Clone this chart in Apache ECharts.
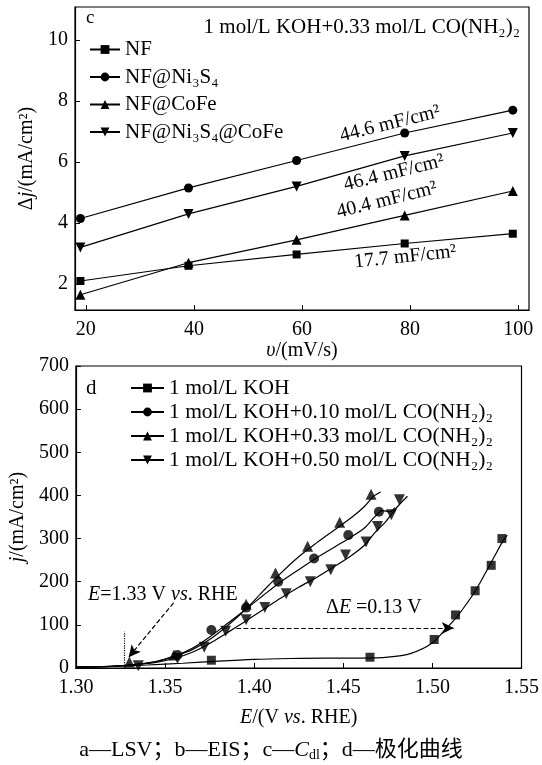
<!DOCTYPE html>
<html>
<head>
<meta charset="utf-8">
<script src="https://cdn.jsdelivr.net/npm/echarts@6/dist/echarts.min.js"></script>
<style>
html, body { margin: 0; padding: 0; background: #fff; }
#main { width: 542px; height: 765px; }
</style>
</head>
<body>
<div id="main"></div>
<script>
// ---- panel c : delta j vs scan rate ----
var scanRates = [19, 39, 59, 79, 99];
var nfVals = [2.1, 2.6, 2.97, 3.33, 3.65];
var ni3s4Vals = [4.15, 5.15, 6.05, 6.95, 7.7];
var cofeVals = [1.65, 2.7, 3.45, 4.25, 5.05];
var ni3s4CofeVals = [3.2, 4.3, 5.2, 6.2, 6.95];
var cTicksX = [20, 40, 60, 80, 100];
var cTicksY = [2, 4, 6, 8, 10];
var cdlNotes = [
    { text: '44.6 mF/cm²', at: [76.3, 7.25], rot: 14 },
    { text: '46.4 mF/cm²', at: [77.0, 5.64], rot: 14 },
    { text: '40.4 mF/cm²', at: [75.7, 4.75], rot: 14 },
    { text: '17.7 mF/cm²', at: [79.1, 2.89], rot: 6 }
];

// ---- panel d : polarization curves ----
var kohCurve = [[1.300, 2], [1.320, 4], [1.340, 7], [1.360, 11], [1.380, 16], [1.400, 20], [1.420, 22],
    [1.440, 23], [1.460, 23], [1.475, 25], [1.488, 34], [1.500, 58], [1.507, 88], [1.513, 115],
    [1.518, 142], [1.524, 178], [1.530, 222], [1.535, 260], [1.539, 290], [1.542, 308]];
var kohMarks = [[1.376, 18], [1.465, 25], [1.501, 66], [1.513, 123], [1.524, 179], [1.533, 238], [1.539, 300]];

var urea010Curve = [[1.300, 2], [1.315, 3], [1.325, 5], [1.335, 9], [1.345, 15], [1.355, 27], [1.365, 45],
    [1.375, 72], [1.385, 103], [1.395, 135], [1.405, 168], [1.415, 200], [1.425, 228], [1.435, 255],
    [1.445, 280], [1.455, 305], [1.462, 325], [1.468, 352], [1.472, 365], [1.476, 362], [1.479, 372]];
var urea010Marks = [[1.357, 30], [1.376, 88], [1.3955, 140], [1.4135, 200], [1.4336, 254], [1.4528, 308], [1.470, 362]];

var urea033Curve = [[1.300, 2], [1.315, 3], [1.325, 5], [1.335, 9], [1.345, 15], [1.355, 27], [1.365, 42],
    [1.375, 66], [1.385, 98], [1.395, 135], [1.405, 178], [1.415, 220], [1.425, 258], [1.435, 290],
    [1.445, 320], [1.455, 350], [1.462, 375], [1.467, 398], [1.471, 408]];
var urea033Marks = [[1.330, 14], [1.355, 30], [1.3955, 148], [1.412, 220], [1.430, 282], [1.448, 338], [1.4656, 403]];

var urea050Curve = [[1.300, 2], [1.315, 3], [1.325, 5], [1.335, 8], [1.345, 13], [1.355, 22], [1.365, 36],
    [1.375, 57], [1.385, 82], [1.395, 108], [1.405, 135], [1.415, 162], [1.425, 187], [1.435, 210],
    [1.445, 235], [1.455, 262], [1.462, 285], [1.468, 315], [1.474, 340], [1.480, 372], [1.486, 398]];
var urea050Marks = [[1.335, 5], [1.357, 22], [1.372, 48], [1.384, 85], [1.3955, 112], [1.406, 140], [1.418, 172],
    [1.4315, 200], [1.443, 228], [1.4513, 262], [1.4628, 292], [1.4692, 328], [1.477, 355], [1.4815, 390]];

var dTicksX = [1.30, 1.35, 1.40, 1.45, 1.50, 1.55];
var onsetArrow = [[1.3548, 151], [1.3296, 25]];
var onsetDrop = [[1.327, 0], [1.327, 84]];
var deltaArrow = [[1.390, 93], [1.512, 93]];
var onsetNote = { at: [1.3488, 169] };
var deltaNote = { at: [1.4672, 139] };

var FONT = '"Liberation Serif", "Times New Roman", serif';
var DOWN_TRI = 'path://M0,0L10,0L5,9Z';

function zip(xs, ys) {
    return xs.map(function (x, i) { return [x, ys[i]]; });
}

var chartDom = document.getElementById('main');
var myChart = echarts.init(chartDom);
var option;

function axisBase(extra) {
    var base = {
        type: 'value',
        axisLine: { show: true, lineStyle: { color: '#000', width: 1.2 } },
        axisTick: { inside: true, length: 5, lineStyle: { color: '#000' } },
        axisLabel: { color: '#000', fontSize: 20, fontFamily: FONT },
        splitLine: { show: false },
        nameLocation: 'middle',
        nameTextStyle: {
            color: '#000', fontSize: 20, fontFamily: FONT,
            rich: { i: { fontStyle: 'italic', fontSize: 20, fontFamily: FONT, color: '#000' } }
        }
    };
    return Object.assign(base, extra);
}

function cLine(name, vals, symbol, size) {
    return {
        name: name, type: 'line', xAxisIndex: 0, yAxisIndex: 0,
        data: zip(scanRates, vals), symbol: symbol, symbolSize: size,
        itemStyle: { color: '#000' }, lineStyle: { color: '#000', width: 1.2 }
    };
}

function dLine(name, pts, symbol) {
    return {
        name: name, type: 'line', xAxisIndex: 1, yAxisIndex: 1, data: pts,
        smooth: 0.3, showSymbol: false, symbol: symbol, symbolSize: 9,
        itemStyle: { color: '#000' }, lineStyle: { color: '#000', width: 1.2 }
    };
}

function dMarks(name, pts, symbol, size) {
    return {
        name: name, type: 'scatter', xAxisIndex: 1, yAxisIndex: 1, data: pts,
        symbol: symbol, symbolSize: size, itemStyle: { color: '#000' }
    };
}

var legendText = { color: '#000', fontSize: 21, fontFamily: FONT };

option = {
    animation: false,
    backgroundColor: '#fff',
    grid: [
        { left: 75, right: 13, top: 7, height: 303, show: true, borderColor: '#000', borderWidth: 1.2 },
        { left: 73, right: 13, top: 366, height: 302, show: true, borderColor: '#000', borderWidth: 1.2 }
    ],
    xAxis: [
        axisBase({
            gridIndex: 0, min: 18, max: 102,
            axisTick: { inside: true, length: 5, lineStyle: { color: '#000' }, customValues: cTicksX },
            axisLabel: { color: '#000', fontSize: 20, fontFamily: FONT, margin: 10, customValues: cTicksX },
            name: '{i|υ}/(mV/s)', nameGap: 30
        }),
        axisBase({
            gridIndex: 1, min: 1.30, max: 1.55,
            axisTick: { inside: true, length: 5, lineStyle: { color: '#000' }, customValues: dTicksX },
            axisLabel: {
                color: '#000', fontSize: 20, fontFamily: FONT, margin: 10, customValues: dTicksX,
                formatter: function (v) { return v.toFixed(2); }
            },
            name: '{i|E}/(V {i|vs}. RHE)', nameGap: 40
        })
    ],
    yAxis: [
        axisBase({
            gridIndex: 0, min: 1.15, max: 11.08,
            axisTick: { inside: true, length: 5, lineStyle: { color: '#000' }, customValues: cTicksY },
            axisLabel: { color: '#000', fontSize: 20, fontFamily: FONT, margin: 7, customValues: cTicksY },
            name: 'Δ{i|j}/(mA/cm²)', nameGap: 24
        }),
        axisBase({
            gridIndex: 1, min: 0, max: 700, interval: 100,
            axisLabel: { color: '#000', fontSize: 20, fontFamily: FONT, margin: 7 },
            name: '{i|j}/(mA/cm²)', nameGap: 34
        })
    ],
    legend: [
        {
            orient: 'vertical', left: 89, top: 39, padding: 0, itemWidth: 30, itemHeight: 11, itemGap: 6.5,
            textStyle: legendText, selectedMode: false,
            data: ['NF', 'NF@Ni₃S₄', 'NF@CoFe', 'NF@Ni₃S₄@CoFe']
        },
        {
            orient: 'vertical', left: 130, top: 377, padding: 0, itemWidth: 33, itemHeight: 11, itemGap: 2,
            textStyle: { color: '#000', fontSize: 21.5, fontFamily: FONT }, selectedMode: false,
            data: ['1 mol/L KOH', '1 mol/L KOH+0.10 mol/L CO(NH₂)₂',
                '1 mol/L KOH+0.33 mol/L CO(NH₂)₂', '1 mol/L KOH+0.50 mol/L CO(NH₂)₂']
        }
    ],
    series: [
        cLine('NF', nfVals, 'rect', 8),
        cLine('NF@Ni₃S₄', ni3s4Vals, 'circle', 9),
        cLine('NF@CoFe', cofeVals, 'triangle', 10),
        cLine('NF@Ni₃S₄@CoFe', ni3s4CofeVals, DOWN_TRI, 10),
        Object.assign(dLine('1 mol/L KOH', kohCurve, 'rect'), {
            markLine: {
                silent: true, animation: false,
                label: { show: false },
                lineStyle: { color: '#000', width: 1.2, type: 'dashed' },
                data: [
                    [{ coord: onsetArrow[0], symbol: 'none' }, { coord: onsetArrow[1], symbol: 'arrow', symbolSize: [9, 12] }],
                    [{ coord: deltaArrow[0], symbol: 'none' }, { coord: deltaArrow[1], symbol: 'arrow', symbolSize: [9, 12] }],
                    [{ coord: onsetDrop[0], symbol: 'none', lineStyle: { type: 'dotted', width: 1.2 } },
                        { coord: onsetDrop[1], symbol: 'none' }]
                ]
            }
        }),
        dLine('1 mol/L KOH+0.10 mol/L CO(NH₂)₂', urea010Curve, 'circle'),
        dLine('1 mol/L KOH+0.33 mol/L CO(NH₂)₂', urea033Curve, 'triangle'),
        dLine('1 mol/L KOH+0.50 mol/L CO(NH₂)₂', urea050Curve, DOWN_TRI),
        dMarks('koh-pts', kohMarks, 'rect', 9),
        dMarks('u010-pts', urea010Marks, 'circle', 10),
        dMarks('u033-pts', urea033Marks, 'triangle', 11),
        dMarks('u050-pts', urea050Marks, DOWN_TRI, 11)
    ]
};

option && myChart.setOption(option);

// text notes placed through the axes
var richBase = {
    i: { fontStyle: 'italic', fontSize: 20, fontFamily: FONT, fill: '#000' },
    n: { fontSize: 20, fontFamily: FONT, fill: '#000' }
};
var graphics = [];
cdlNotes.forEach(function (n) {
    var p = myChart.convertToPixel({ gridIndex: 0 }, n.at);
    graphics.push({
        type: 'text', x: p[0], y: p[1], rotation: n.rot * Math.PI / 180, silent: true,
        style: { text: n.text, x: 0, y: 0, align: 'center', verticalAlign: 'middle', fill: '#000', font: '20px ' + FONT }
    });
});
var p1 = myChart.convertToPixel({ gridIndex: 1 }, onsetNote.at);
graphics.push({
    type: 'text', x: p1[0], y: p1[1], silent: true,
    style: { text: '{i|E}{n|=1.33 V }{i|vs}{n|. RHE}', rich: richBase, x: 0, y: 0,
        align: 'center', verticalAlign: 'middle', fill: '#000', font: '20px ' + FONT }
});
var p2 = myChart.convertToPixel({ gridIndex: 1 }, deltaNote.at);
graphics.push({
    type: 'text', x: p2[0], y: p2[1], silent: true,
    style: { text: '{n|Δ}{i|E}{n| =0.13 V}', rich: richBase, x: 0, y: 0,
        align: 'center', verticalAlign: 'middle', fill: '#000', font: '20px ' + FONT }
});
// panel letters, condition and caption
graphics.push({ type: 'text', left: 86, top: 9, silent: true,
    style: { text: 'c', fill: '#000', font: '19px ' + FONT } });
graphics.push({ type: 'text', left: 86, top: 378, silent: true,
    style: { text: 'd', fill: '#000', font: '21px ' + FONT } });
graphics.push({ type: 'text', right: 22, top: 17, silent: true,
    style: { text: '1 mol/L KOH+0.33 mol/L CO(NH₂)₂', fill: '#000', font: '21px ' + FONT } });
graphics.push({ type: 'text', left: 'center', top: 739, silent: true,
    style: {
        text: 'a—LSV；b—EIS；c—{i|C}{s|dl}；d—极化曲线',
        fill: '#000', font: '22px ' + FONT + ', "Noto Sans CJK SC"',
        rich: {
            i: { fontStyle: 'italic', fontSize: 22, fontFamily: FONT, fill: '#000' },
            s: { fontSize: 14, fontFamily: FONT, fill: '#000', padding: [10, 0, 0, 0] }
        }
    }
});
myChart.setOption({ graphic: graphics });
</script>
</body>
</html>
